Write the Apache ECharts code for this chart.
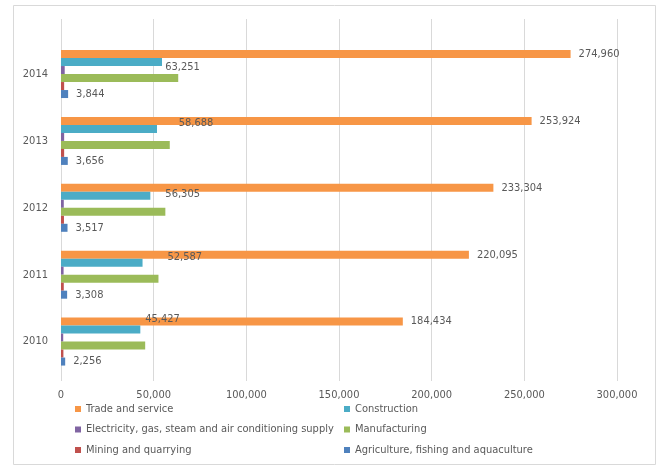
<!DOCTYPE html>
<html>
<head>
<meta charset="utf-8">
<script src="https://cdn.jsdelivr.net/npm/echarts@6/dist/echarts.min.js"></script>
<style>html,body{margin:0;padding:0;background:#fff}#c{width:659px;height:466px}</style>
</head>
<body>
<div id="c"></div>
<script>
const years = ['2010', '2011', '2012', '2013', '2014'];
const xTicks = [0, 50000, 100000, 150000, 200000, 250000, 300000];
const tradeService = [184434, 220095, 233304, 253924, 274960];
const construction = [42800, 44000, 48200, 51800, 54500];
const electricity = [1200, 1400, 1500, 1700, 2000];
const manufacturing = [45427, 52587, 56305, 58688, 63251];
const mining = [1300, 1500, 1600, 1700, 1700];
const agriculture = [2256, 3308, 3517, 3656, 3844];

// label placement styling (as in the source, manufacturing labels are nudged)
const mfgLabelOffsets = [[-5, -26], [4, -22], [-5, -18], [4, -22], [-18, -11]];

const FONT = "'Liberation Sans Narrow', 'DejaVu Sans Condensed', 'Open Sans', sans-serif";
const FS = 11;
const TXT = '#595959';
const fmt = p => Number(p.value).toLocaleString('en-US');

const chart = echarts.init(document.getElementById('c'));
const valueLabel = (dist) => ({show: true, position: 'right', distance: dist, formatter: fmt,
  fontFamily: FONT, fontSize: FS, color: TXT});

chart.setOption({
  animation: false,
  backgroundColor: '#fff',
  textStyle: {fontFamily: FONT},
  graphic: [{type: 'rect', shape: {x: 13.5, y: 5.5, width: 642, height: 459},
    style: {fill: 'none', stroke: '#D9D9D9', lineWidth: 1}, z: -10}],
  grid: [
    {left: 61, right: 42, top: 40.6, bottom: 91},
    {left: 61, right: 42, top: 19, bottom: 85}
  ],
  xAxis: [
    {type: 'value', gridIndex: 0, min: xTicks[0], max: xTicks[xTicks.length - 1], interval: 50000,
      show: false, splitLine: {show: false}},
    {type: 'value', gridIndex: 1, min: xTicks[0], max: xTicks[xTicks.length - 1], interval: 50000,
      axisLine: {show: false}, axisTick: {show: false},
      splitLine: {show: true, lineStyle: {color: '#D9D9D9', width: 1}},
      axisLabel: {fontFamily: FONT, fontSize: FS, color: TXT, margin: 9,
        formatter: v => Number(v).toLocaleString('en-US')}}
  ],
  yAxis: [
    {type: 'category', gridIndex: 0, data: years,
      axisLine: {show: false}, axisTick: {show: false},
      axisLabel: {fontFamily: FONT, fontSize: FS, color: TXT, margin: 13}},
    {type: 'value', gridIndex: 1, show: false}
  ],
  legend: [
    {orient: 'vertical', left: 75, top: 402, padding: 0, itemWidth: 6, itemHeight: 6, itemGap: 6.5,
      icon: 'rect', textStyle: {fontFamily: FONT, fontSize: FS, color: TXT, lineHeight: 14},
      data: ['Trade and service', 'Electricity, gas, steam and air conditioning supply', 'Mining and quarrying']},
    {orient: 'vertical', left: 344, top: 402, padding: 0, itemWidth: 6, itemHeight: 6, itemGap: 6.5,
      icon: 'rect', textStyle: {fontFamily: FONT, fontSize: FS, color: TXT, lineHeight: 14},
      data: ['Construction', 'Manufacturing', 'Agriculture, fishing and aquaculture']}
  ],
  series: [
    {name: 'Trade and service', type: 'bar', barWidth: 8, barGap: '0%', data: tradeService,
      itemStyle: {color: '#F79646'}, label: valueLabel(8)},
    {name: 'Construction', type: 'bar', barWidth: 8, barGap: '0%', data: construction,
      itemStyle: {color: '#4BACC6'}},
    {name: 'Electricity, gas, steam and air conditioning supply', type: 'bar', barWidth: 8, barGap: '0%',
      data: electricity, itemStyle: {color: '#8064A2'}},
    {name: 'Manufacturing', type: 'bar', barWidth: 8, barGap: '0%',
      data: manufacturing.map((v, i) => ({value: v, label: {offset: mfgLabelOffsets[i]}})),
      itemStyle: {color: '#9BBB59'}, label: valueLabel(5)},
    {name: 'Mining and quarrying', type: 'bar', barWidth: 8, barGap: '0%', data: mining,
      itemStyle: {color: '#C0504D'}},
    {name: 'Agriculture, fishing and aquaculture', type: 'bar', barWidth: 8, barGap: '0%', data: agriculture,
      itemStyle: {color: '#4F81BD'}, label: valueLabel(8)}
  ]
});
</script>
</body>
</html>
